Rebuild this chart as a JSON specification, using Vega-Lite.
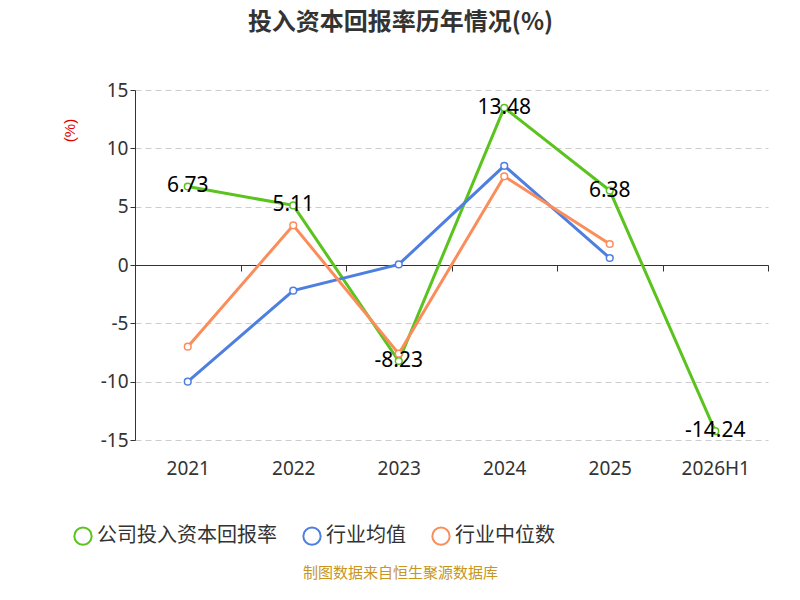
{
  "$schema": "https://vega.github.io/schema/vega-lite/v6.json",
  "width": 633,
  "height": 350,
  "autosize": {"type": "none"},
  "padding": {"left": 135, "top": 90, "right": 32, "bottom": 160},
  "background": "white",
  "title": {"text": "投入资本回报率历年情况(%)", "fontSize": 24, "font": "Noto Sans CJK SC", "fontWeight": "bold", "color": "#333333", "offset": 46, "dx": -51},
  "data": {
    "values": [
      {"year": "2021", "series": "公司投入资本回报率", "v": 6.73},
      {"year": "2022", "series": "公司投入资本回报率", "v": 5.11},
      {"year": "2023", "series": "公司投入资本回报率", "v": -8.23},
      {"year": "2024", "series": "公司投入资本回报率", "v": 13.48},
      {"year": "2025", "series": "公司投入资本回报率", "v": 6.38},
      {"year": "2026H1", "series": "公司投入资本回报率", "v": -14.24},
      {"year": "2021", "series": "行业均值", "v": -10.0},
      {"year": "2022", "series": "行业均值", "v": -2.2},
      {"year": "2023", "series": "行业均值", "v": 0.05},
      {"year": "2024", "series": "行业均值", "v": 8.5},
      {"year": "2025", "series": "行业均值", "v": 0.6},
      {"year": "2021", "series": "行业中位数", "v": -7.0},
      {"year": "2022", "series": "行业中位数", "v": 3.4},
      {"year": "2023", "series": "行业中位数", "v": -7.6},
      {"year": "2024", "series": "行业中位数", "v": 7.6},
      {"year": "2025", "series": "行业中位数", "v": 1.8}
    ]
  },
  "encoding": {
    "x": {
      "field": "year", "type": "nominal", "sort": null, "bandPosition": 0.5,
      "scale": {"type": "band", "paddingInner": 0, "paddingOuter": 0},
      "axis": {
        "offset": -175, "labelPadding": 188, "labelAngle": 0, "labelFontSize": 19,
        "labelColor": "#333333", "labelFont": "Noto Sans", "tickBand": "extent",
        "domainColor": "#333333", "tickColor": "#333333", "tickSize": 6,
        "title": "制图数据来自恒生聚源数据库", "titleColor": "#c8961e", "titleFontSize": 15,
        "titleFontWeight": "normal", "titleFont": "Noto Sans CJK SC", "titlePadding": 100, "titleX": 265
      }
    },
    "y": {
      "field": "v", "type": "quantitative",
      "scale": {"domain": [-15, 15], "nice": false},
      "axis": {
        "values": [-15, -10, -5, 0, 5, 10, 15], "labelFontSize": 19, "labelColor": "#333333",
        "labelFont": "Noto Sans", "domainColor": "#333333", "tickColor": "#333333", "format": "d",
        "gridDash": [6, 4], "gridColor": "#cccccc",
        "title": "(%)", "titleColor": "#e00000", "titleFontSize": 15, "titleFontWeight": "normal",
        "titleAngle": 270, "titleX": -58, "titleY": 40
      }
    },
    "color": {
      "field": "series", "type": "nominal",
      "scale": {"domain": ["公司投入资本回报率", "行业均值", "行业中位数"], "range": ["#5ac31e", "#4e7fe0", "#fb8d5b"]},
      "legend": null
    },
    "stroke": {
      "field": "series", "type": "nominal",
      "scale": {"domain": ["公司投入资本回报率", "行业均值", "行业中位数"], "range": ["#5ac31e", "#4e7fe0", "#fb8d5b"]},
      "legend": {
        "orient": "none", "legendX": -62, "legendY": 436, "direction": "horizontal", "title": null,
        "labelFontSize": 20, "labelColor": "#333333", "labelFont": "Noto Sans CJK SC", "labelLimit": 400,
        "symbolType": "circle", "symbolSize": 300, "symbolFillColor": "white", "symbolStrokeWidth": 2,
        "columnPadding": 22
      }
    }
  },
  "layer": [
    {"mark": {"type": "line", "strokeWidth": 3}},
    {"mark": {"type": "point", "filled": false, "fill": "white", "fillOpacity": 1, "size": 45, "strokeWidth": 1.5, "opacity": 1}},
    {
      "transform": [{"filter": "datum.series === '公司投入资本回报率'"}],
      "mark": {"type": "text", "fontSize": 21, "font": "Noto Sans", "dy": 0},
      "encoding": {"text": {"field": "v", "type": "quantitative", "format": ".2f"}, "color": {"value": "black"}, "stroke": {"value": null}}
    }
  ],
  "config": {
    "view": {"stroke": null},
    "locale": {"number": {"decimal": ".", "thousands": ",", "grouping": [3], "currency": ["", ""], "minus": "-"}}
  }
}
